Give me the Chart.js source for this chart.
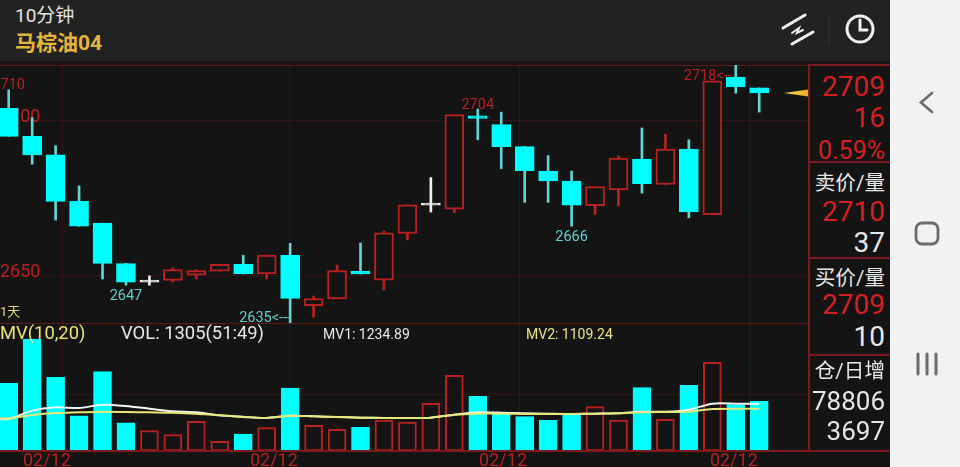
<!DOCTYPE html>
<html lang="zh">
<head>
<meta charset="utf-8">
<title>马棕油04 10分钟</title>
<script src="https://cdn.jsdelivr.net/npm/chart.js@4"></script>
<style>
html,body{margin:0;padding:0;width:960px;height:467px;overflow:hidden;background:#141414;font-family:Roboto,"Noto Sans CJK SC",sans-serif}
.abs,canvas{position:absolute}
.t{position:absolute;white-space:nowrap;line-height:1;transform:translateY(-50%)}
.r{right:75px;text-align:right}
.red{color:#d42020}.wht{color:#e6e6e6}
.ln{position:absolute;background:#7d1a20}
</style>
</head>
<body>
<div class="abs" style="left:0;top:0;width:890px;height:61px;background:#222222"></div>
<div class="abs" style="left:0;top:61px;width:890px;height:4px;background:#1a1212"></div>
<div class="t" style="left:15px;top:15px;font-size:19px;color:#e4e4e4">10分钟</div>
<div class="t" style="left:15px;top:43px;font-size:21px;font-weight:700;color:#e6b53c">马棕油04</div>
<svg class="abs" style="left:780px;top:10px" width="100" height="44" fill="none" stroke="#f2f2f2" stroke-linecap="round">
 <path d="M3 18 L25 5 M12 34 L33 22" stroke-width="3"/>
 <path d="M12 23 L19 18 L17 23 L23 20" stroke-width="2"/>
 <path d="M49 7 V34" stroke="#333" stroke-width="1"/>
 <circle cx="80" cy="19" r="13" stroke-width="3"/>
 <path d="M80 10 V20 H87" stroke-width="3"/>
</svg>

<div class="ln" style="left:0;top:65px;width:808px;height:1px;background:#611a1a"></div>
<div class="ln" style="left:0;top:323px;width:808px;height:1px;background:#611a1a"></div>

<canvas id="price" style="left:0;top:56px" width="808" height="276"></canvas>
<canvas id="volume" style="left:0;top:323px" width="808" height="144"></canvas>

<div class="t" style="left:0;top:311px;font-size:13px;color:#dcdc78">1天</div>
<div class="t" style="left:0;top:333px;font-size:18.4px;color:#e6e67a">MV(10,20)</div>
<div class="t" style="left:121px;top:333px;font-size:18.4px;color:#e8e8e8">VOL: 1305(51:49)</div>
<div class="t" style="left:323px;top:334px;font-size:14px;color:#e8e8e8">MV1: 1234.89</div>
<div class="t" style="left:526px;top:334px;font-size:14px;color:#e6e67a">MV2: 1109.24</div>

<div class="abs" style="left:809px;top:65px;width:81px;height:402px;background:#141414"></div>
<div class="ln" style="left:808px;top:65px;width:2px;height:387px"></div>
<div class="ln" style="left:808px;top:64px;width:82px;height:2px"></div>
<div class="ln" style="left:808px;top:161px;width:82px;height:2px"></div>
<div class="ln" style="left:808px;top:257px;width:82px;height:2px"></div>
<div class="ln" style="left:808px;top:354px;width:82px;height:2px"></div>
<div class="ln" style="left:0;top:450px;width:890px;height:2px"></div>

<div class="t r red" style="top:87px;font-size:28px">2709</div>
<div class="t r red" style="top:118px;font-size:28px">16</div>
<div class="t r red" style="top:150px;font-size:25px">0.59%</div>
<div class="t r wht" style="top:183px;font-size:20.6px">卖价/量</div>
<div class="t r red" style="top:212px;font-size:28px">2710</div>
<div class="t r wht" style="top:243px;font-size:28px">37</div>
<div class="t r wht" style="top:278px;font-size:20.6px">买价/量</div>
<div class="t r red" style="top:305px;font-size:28px">2709</div>
<div class="t r wht" style="top:337px;font-size:28px">10</div>
<div class="t r wht" style="top:371px;font-size:20.6px">仓/日增</div>
<div class="t r wht" style="top:401px;font-size:26px">78806</div>
<div class="t r wht" style="top:431px;font-size:26px">3697</div>

<div class="abs" style="left:890px;top:0;width:70px;height:467px;background:#f2f2f2"></div>
<svg class="abs" style="left:890px;top:0" width="70" height="467" fill="none" stroke="#6b6b6b" stroke-linecap="round">
 <path d="M42 93 L31 102.5 L42 112" stroke-width="2.6"/>
 <rect x="26" y="223" width="22" height="21" rx="6" stroke-width="2.8"/>
 <path d="M28 354 V374 M37 354 V374 M46 354 V374" stroke-width="3"/>
</svg>

<script>
// Candles, oldest first (10-minute bars)
const opens  = [2704,2695,2689,2674,2667,2654,2648,2648.5,2650.2,2651.5,2653.7,2650.6,2656.6,2640.4,2642.6,2651.5,2648.6,2663.7,2672.8,2671.5,2701.6,2698.8,2691.7,2683.8,2680.6,2672.6,2677.7,2687.7,2679.5,2690.8,2669.7,2714,2710.6];
const closes = [2695,2689,2674,2666,2654,2648,2648,2652,2651.7,2653.7,2650.6,2656.7,2642.7,2642.7,2651.7,2650.6,2663.9,2672.9,2672.8,2702,2700.8,2691.7,2683.9,2680.6,2672.8,2678.8,2688,2679.7,2690.9,2670.6,2712.9,2710.9,2709];
const highs  = [2710,2701,2692,2679,2667,2654,2650,2652.6,2652,2653.7,2656.6,2656.7,2660.5,2643.5,2653.5,2660.6,2664.5,2672.9,2681.7,2702,2703.8,2702.8,2691.7,2688.8,2683.8,2678.8,2688.7,2697.7,2695.7,2693.9,2712.9,2718,2710.6];
const lows   = [2695,2686,2668,2666,2649,2647,2647,2648,2649,2651.5,2650.6,2649,2634.7,2636.7,2642.6,2650.6,2645.5,2661.6,2670.6,2670.4,2693.9,2684.6,2673.7,2673.7,2666,2669.8,2672.6,2676.7,2679.5,2668.7,2669.7,2708.9,2702.8];
const volumes = [1780,2946,1938,928,2086,744,534,429,781,255,447,613,1657,676,571,623,815,763,1255,1991,1439,965,902,807,965,1165,815,1665,834,1728,2333,1218,1305];
// Moving averages start one bar before the first visible candle
const mv1 = [850,842,1061,1148,1131,1218,1184,1113,1043,1017,938,894,868,929,912,894,877,868,868,877,955,1017,1008,990,982,973,982,990,1034,1034,1087,1245,1245,1235];
const mv2 = [850,859,947,999,1017,1034,1026,1017,1008,982,938,903,868,929,912,894,877,868,868,877,955,982,982,973,973,973,982,990,1017,1026,1034,1105,1113,1109];
// Axis labels and price annotations
const priceTicks = [2650,2700];
const volumeTicks = [1473];
const dateLabel = '02/12';
const gridSlots = [2.31,11.99,21.76,31.6];
const noteBars  = [0,5,12,20,24,31];
const noteTexts = ['2710','2647','2635<---','2704','2666','2718<--'];
const noteAtHigh = [true,false,false,true,false,true];
const lastPrice = 2709;

const RED='#b8211f', CYAN='#00ffff', WHITE='#f0f0f0', BG='#141414';
const GRID='rgba(110,22,22,0.34)';
const xWindow = {type:'linear',min:-0.371,max:34.08,offset:false};
const up = i => closes[i] > opens[i], down = i => closes[i] < opens[i];

function zeroWidth(s){s.width=0}

const notesPlugin = {
  id:'notes',
  afterDatasetsDraw(c){
    const g=c.ctx, xs=c.scales.x, ys=c.scales.y;
    g.save();
    g.font='14.5px Roboto'; g.textBaseline='middle';
    noteBars.forEach((b,k)=>{
      const x=xs.getPixelForValue(b), isHigh=noteAtHigh[k];
      const y=ys.getPixelForValue(isHigh?highs[b]:lows[b]);
      g.fillStyle=isHigh?'#b8211f':'#5fd0d0';
      if(noteTexts[k].includes('<')){
        g.textAlign='right';
        g.fillText(noteTexts[k],x+(isHigh?-4:1),isHigh?y+11:y-5);
      }else{
        g.textAlign='center';
        g.fillText(noteTexts[k],x,isHigh?y-4:y+11);
      }
    });
    // current-price pointer on the right edge
    const py=ys.getPixelForValue(lastPrice), R=c.chartArea.right;
    const grad=g.createLinearGradient(R-24,0,R,0);
    grad.addColorStop(0,'#f3dd6a'); grad.addColorStop(1,'#f0a91e');
    g.fillStyle=grad;
    g.beginPath(); g.moveTo(R-24,py); g.lineTo(R,py-3.5); g.lineTo(R,py+3.5); g.closePath(); g.fill();
    g.restore();
  }
};

Chart.defaults.animation=false;
Chart.defaults.responsive=false;
Chart.defaults.font.family='Roboto';

new Chart(document.getElementById('price'),{
  type:'bar',
  data:{datasets:[
    {label:'body',order:1,barThickness:19,minBarLength:2,borderSkipped:false,grouped:false,borderWidth:2,
     data:opens.map((o,i)=>({x:i,y:[o,closes[i]]})),
     backgroundColor:c=>up(c.dataIndex)?BG:(down(c.dataIndex)?CYAN:WHITE),
     borderColor:c=>up(c.dataIndex)?RED:(down(c.dataIndex)?CYAN:WHITE)},
    {label:'range',order:2,barThickness:2,borderSkipped:false,grouped:false,borderWidth:0,
     data:lows.map((l,i)=>({x:i,y:[l,highs[i]]})),
     backgroundColor:c=>up(c.dataIndex)?RED:(down(c.dataIndex)?'#62d4d4':WHITE)}
  ]},
  plugins:[notesPlugin],
  options:{
    layout:{padding:0},
    plugins:{legend:{display:false},tooltip:{enabled:false}},
    scales:{
      x:{...xWindow,border:{display:false},grid:{color:GRID,offset:false,drawTicks:false},
         ticks:{display:false},afterBuildTicks:s=>{s.ticks=gridSlots.map(value=>({value}))},afterFit:s=>{s.height=0}},
      y:{min:2634.8,max:2718,border:{display:false},grid:{color:GRID,drawTicks:false},
         ticks:{mirror:true,padding:0,labelOffset:-3,color:'#b8211f',font:{size:18,lineHeight:1},callback:v=>String(v)},
         afterBuildTicks:s=>{s.ticks=priceTicks.map(value=>({value}))},afterFit:zeroWidth}
    }
  }
});

new Chart(document.getElementById('volume'),{
  type:'bar',
  data:{datasets:[
    {type:'bar',label:'VOL',order:3,barThickness:18,borderSkipped:false,grouped:false,borderWidth:2,
     data:volumes.map((v,i)=>({x:i,y:v})),
     backgroundColor:c=>closes[c.dataIndex]>=opens[c.dataIndex]?BG:CYAN,
     borderColor:c=>closes[c.dataIndex]>=opens[c.dataIndex]?RED:CYAN},
    {type:'line',label:'MV1',order:2,data:mv1.map((v,i)=>({x:i-1,y:v})),borderColor:'#f4f4f4',borderWidth:2,pointRadius:0,tension:0.25},
    {type:'line',label:'MV2',order:1,data:mv2.map((v,i)=>({x:i-1,y:v})),borderColor:'#e8e87a',borderWidth:2,pointRadius:0,tension:0.25}
  ]},
  options:{
    layout:{padding:0},
    plugins:{legend:{display:false},tooltip:{enabled:false}},
    scales:{
      x:{...xWindow,border:{display:false},grid:{color:GRID,offset:false,drawTicks:false},
         ticks:{color:'#b8211f',font:{size:18},padding:0,labelOffset:-16,maxRotation:0,autoSkip:false,callback:()=>dateLabel},
         afterBuildTicks:s=>{s.ticks=gridSlots.map(value=>({value}))},afterFit:s=>{s.height=16}},
      y:{min:0,max:3366,border:{display:false},grid:{color:GRID,drawTicks:false},
         ticks:{display:false},afterBuildTicks:s=>{s.ticks=volumeTicks.map(value=>({value}))},afterFit:zeroWidth}
    }
  }
});
</script>
</body>
</html>
